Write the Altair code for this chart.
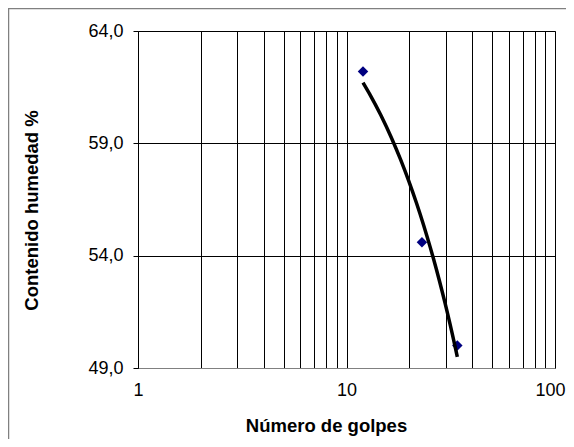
import altair as alt
import pandas as pd

# Data
golpes = [12, 23, 34]
humedad = [62.2, 54.6, 50.0]

x_grid_values = [1, 2, 3, 4, 5, 6, 7, 8, 9, 10, 20, 30, 40, 50, 60, 70, 80, 90, 100]
x_label_values = [1, 10, 100]
y_tick_values = [49, 54, 59, 64]

df = pd.DataFrame({"golpes": golpes, "humedad": humedad})

FONT = "Liberation Sans"
LABEL_SIZE = 18
TITLE_SIZE = 18.5

x_enc = alt.X(
    "golpes:Q",
    scale=alt.Scale(type="log", domain=[1, 100], nice=False),
    axis=alt.Axis(
        title="Número de golpes",
        values=x_grid_values,
        labelExpr="indexof([" + ",".join(str(v) for v in x_label_values) + "], datum.value) >= 0 ? '' + datum.value : ''",
        labelFlush=False,
        labelOverlap=False,
        labelFont=FONT,
        labelFontSize=LABEL_SIZE,
        labelColor="#000000",
        labelOffset={"condition": {"test": "datum.value == 100", "value": -5}, "value": 0},
        ticks=False,
        tickSize=0,
        labelPadding=13,
        grid=True,
        gridColor="#000000",
        gridWidth=1,
        domainColor="#808080",
        domainWidth=1,
        titleFont=FONT,
        titleFontSize=TITLE_SIZE,
        titleFontWeight="bold",
        titleColor="#000000",
        titleX=188,
        titleY=63,
        titleBaseline="alphabetic",
    ),
)

y_enc = alt.Y(
    "humedad:Q",
    scale=alt.Scale(domain=[49, 64], nice=False, zero=False),
    axis=alt.Axis(
        title="Contenido humedad %",
        values=y_tick_values,
        labelExpr="replace(format(datum.value, '.1f'), '.', ',')",
        labelFont=FONT,
        labelFontSize=LABEL_SIZE,
        labelColor="#000000",
        ticks=True,
        tickSize=5,
        tickColor="#000000",
        labelPadding=10,
        grid=True,
        gridColor="#000000",
        gridWidth=1,
        domainColor="#000000",
        titleFont=FONT,
        titleFontSize=TITLE_SIZE,
        titleFontWeight="bold",
        titleColor="#000000",
        titleX=-101,
        titleY=179,
        titleBaseline="alphabetic",
        titleAngle=-90,
    ),
)

trend = (
    alt.Chart(df)
    .transform_regression("golpes", "humedad", method="poly", order=1)
    .mark_line(color="#000000", strokeWidth=3.5)
    .encode(x=x_enc, y=y_enc)
)

points = (
    alt.Chart(df)
    .mark_point(shape="diamond", filled=True, color="#000080", size=110, opacity=1)
    .encode(x=x_enc, y=y_enc)
)

frame_src = pd.DataFrame({"a": [0]})
frame_left = (
    alt.Chart(frame_src)
    .mark_rule(color="#808080", strokeWidth=1.5)
    .encode(x=alt.value(-129.5), y=alt.value(-23), y2=alt.value(420))
)
frame_top = (
    alt.Chart(frame_src)
    .mark_rule(color="#808080", strokeWidth=1.5)
    .encode(y=alt.value(-22.5), x=alt.value(-130), x2=alt.value(440))
)

chart = (
    alt.layer(frame_left, frame_top, points, trend)
    .properties(
        width=417,
        height=337,
        autosize=alt.AutoSizeParams(type="none"),
        padding={"left": 130, "top": 23, "right": 11, "bottom": 71},
        background="#ffffff",
    )
    .configure_view(stroke="#808080", strokeWidth=1)
)

chart.save("out.html", embed_options={"renderer": "svg", "actions": False})
